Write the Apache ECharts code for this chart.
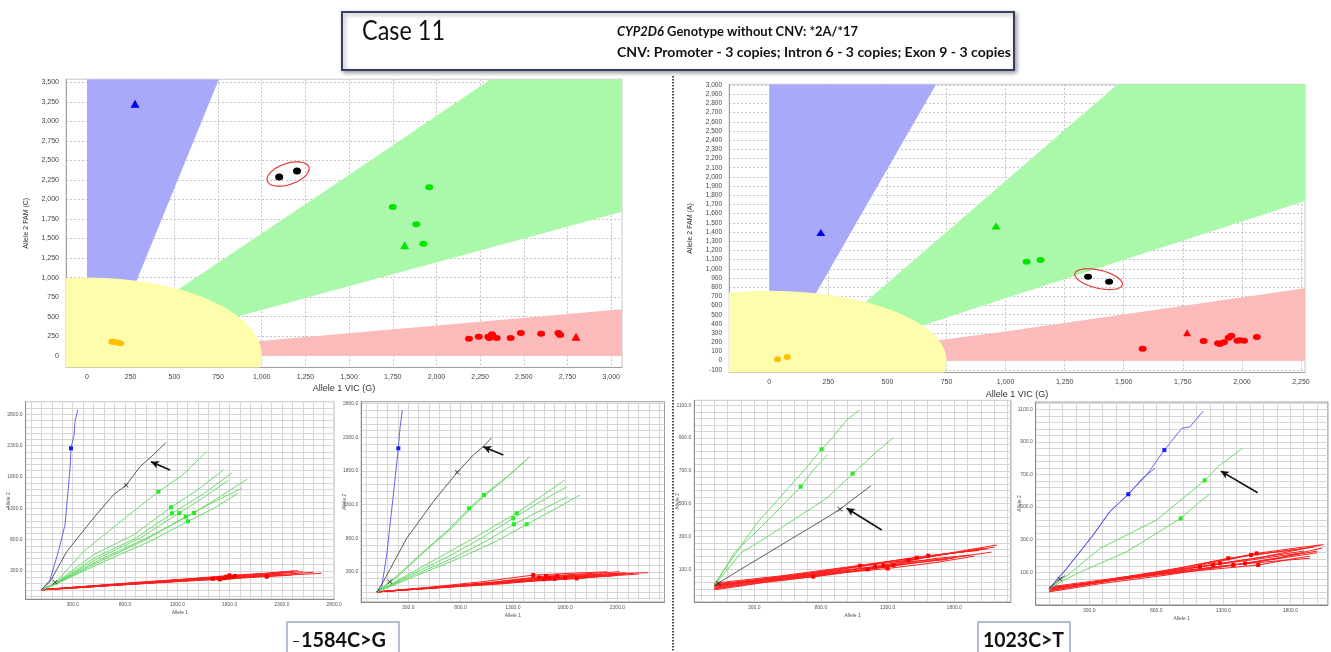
<!DOCTYPE html>
<html><head><meta charset="utf-8">
<script src="https://cdn.jsdelivr.net/npm/echarts@6/dist/echarts.min.js"></script>
<style>html,body{margin:0;padding:0;background:#fff}#c{width:1331px;height:652px}</style>
</head><body><div id="c"></div>
<script>
// ================= DATA =================
// --- top-left genotype cluster plot (-1584C>G) ---
const tlBlueZone   = [[0,0],[0,3540],[755,3540],[284,960],[110,0]];
const tlGreenZone  = [[0,40],[532,863],[1448,2237],[2310,3540],[3062,3540],[3062,1844],[857,500],[0,-20]];
const tlRedZone    = [[0,0],[990,188],[3062,594],[3062,0]];
const tlYellowZone = {center:[0,0], radius:[1000,1000]};
const tlYellow  = [[145,180],[165,172],[190,160]];
const tlBlueTri = [[275,3225]];
const tlBlack   = [[1100,2288],[1202,2365]];
const tlGreen   = [[1959,2156],[1750,1905],[1885,1682],[1925,1434]];
const tlGreenTri= [[1818,1413]];
const tlRed     = [[2186,218],[2242,243],[2297,243],[2303,226],[2318,274],[2345,226],[2425,226],[2483,290],[2599,282],[2698,290],[2708,265]];
const tlRedTri  = [[2799,243]];

// --- top-right genotype cluster plot (1023C>T) ---
const trBlueZone   = [[0,0],[0,3008],[706,3008],[200,744],[34,0]];
const trGreenZone  = [[150,60],[405,632],[1019,2000],[1474,3008],[2267,3008],[2267,1738],[977,661],[645,381],[200,0]];
const trRedZone    = [[0,0],[722,225],[977,309],[2267,788],[2267,0]];
const trYellowZone = {center:[0,0], radius:[750,760]};
const trYellow  = [[35,15],[76,40]];
const trBlueTri = [[218,1395]];
const trGreenTri= [[960,1465]];
const trGreen   = [[1089,1077],[1148,1095]];
const trBlack   = [[1349,914],[1438,860]];
const trRedTri  = [[1768,305]];
const trRed     = [[1580,130],[1838,214],[1899,189],[1907,182],[1924,200],[1944,250],[1955,272],[1981,218],[1993,222],[2009,218],[2063,258]];

// --- bottom amplification trajectory plots ---
const p1Blue  = [[[0,0],[83,156],[163,608],[227,1037],[275,1938],[284,2257],[313,2465],[322,2681],[348,2871]]];
const p1BlueDots = [[284,2257]];
const p1Black = [[[0,0],[83,129],[243,608],[497,1140],[688,1512],[810,1667],[944,1963],[1104,2203],[1192,2352]]];
const p1BlackX = [[810,1667],[131,120]];
const p1Arrow = [[1230,1911],[1049,2043]];
const p1Green = [
  [[0,0],[131,104],[402,608],[816,1166],[1119,1565],[1350,1830],[1581,2203]],
  [[0,0],[131,100],[500,560],[880,874],[1240,1316],[1500,1600],[1741,1911]],
  [[0,0],[131,95],[520,520],[900,820],[1250,1220],[1550,1530],[1826,1868]],
  [[0,0],[131,92],[540,500],[950,830],[1320,1225],[1560,1480],[1791,1751]],
  [[0,0],[131,90],[560,480],[1000,820],[1460,1225],[1720,1500],[1970,1767]],
  [[0,0],[131,88],[580,470],[1000,800],[1381,1166],[1650,1400],[1916,1619]],
  [[0,0],[131,85],[600,450],[1050,780],[1402,1092],[1650,1300],[1880,1540]]
];
const p1GreenDots = [[1119,1565],[1240,1316],[1250,1220],[1320,1225],[1460,1225],[1381,1166],[1402,1092]];
const p1Red = [
  [[0,0],[350,45],[800,95],[1300,150],[1800,215],[2457,305]],
  [[0,0],[400,40],[900,95],[1500,160],[2100,215],[2681,263]],
  [[0,0],[300,30],[800,85],[1300,135],[1708,167],[2200,230]],
  [[0,0],[350,35],[900,100],[1400,150],[1788,193],[2300,245]],
  [[0,0],[400,50],[900,110],[1400,170],[1852,220],[2250,265]],
  [[0,0],[450,45],[1000,110],[1600,170],[2155,209],[2400,235]],
  [[0,0],[300,35],[750,85],[1250,140],[1750,185],[2100,215]],
  [[0,0],[350,45],[850,105],[1350,165],[1800,230],[2350,280]],
  [[0,0],[300,25],[800,80],[1200,120],[1600,160],[2050,200]],
  [[0,0],[400,50],[950,115],[1450,165],[1900,210],[2500,290]],
  [[0,0],[380,40],[880,90],[1380,145],[1880,200],[2600,280]],
  [[0,0],[420,55],[920,120],[1420,175],[1950,235],[2420,300]]
];
const p1RedDots = [[1708,167],[1788,193],[1852,220],[2155,209],[1750,185],[1800,230],[1820,200],[1700,180],[1770,210],[1640,175]];

const p2Blue  = [[[0,0],[46,77],[94,549],[157,1442],[205,2137],[221,2435],[243,2707]]];
const p2BlueDots = [[205,2137]];
const p2Black = [[[0,0],[61,152],[285,798],[539,1342],[769,1780],[922,2037],[1017,2161],[1098,2295]]];
const p2BlackX = [[769,1780],[125,152]];
const p2Arrow = [[1209,2037],[1017,2161]];
const p2Green = [
  [[0,0],[200,250],[444,598],[700,950],[881,1244],[1024,1442],[1250,1720],[1464,2012]],
  [[0,0],[210,240],[450,590],[710,940],[890,1230],[1030,1430],[1240,1700],[1440,1980]],
  [[0,0],[300,260],[650,560],[922,798],[1200,1050],[1336,1170],[1550,1400],[1798,1665]],
  [[0,0],[320,250],[700,540],[1000,800],[1304,1095],[1550,1330],[1814,1565]],
  [[0,0],[340,240],[750,520],[1050,760],[1311,1006],[1600,1240],[1824,1417]],
  [[0,0],[360,230],[800,510],[1150,760],[1432,1006],[1700,1230],[1942,1442]]
];
const p2GreenDots = [[881,1244],[1024,1442],[1336,1170],[1304,1095],[1311,1006],[1432,1006]];
const p2Red = [
  [[0,0],[500,70],[1000,150],[1495,251],[1900,280],[2200,300]],
  [[0,0],[500,65],[1100,145],[1617,237],[2000,270],[2324,301]],
  [[0,0],[600,70],[1200,150],[1725,237],[2100,265],[2595,286]],
  [[0,0],[600,65],[1300,140],[1910,202],[2250,240],[2500,265]],
  [[0,0],[500,60],[1050,130],[1550,215],[1950,250],[2150,265]],
  [[0,0],[550,60],[1100,125],[1650,205],[2050,240],[2400,270]],
  [[0,0],[600,60],[1200,120],[1700,195],[2100,225],[2300,245]],
  [[0,0],[550,65],[1150,135],[1800,210],[2150,245],[2450,275]],
  [[0,0],[500,55],[1050,115],[1600,190],[1950,220],[2250,240]],
  [[0,0],[450,50],[900,100],[1400,160],[1800,190],[2000,205]],
  [[0,0],[520,62],[1080,128],[1580,200],[2000,245],[2380,285]]
];
const p2RedDots = [[1495,251],[1617,237],[1725,237],[1910,202],[1550,215],[1650,205],[1700,195],[1800,210],[1600,190]];

const p3Blue  = [];
const p3BlueDots = [];
const p3Black = [[[0,0],[30,15],[168,85],[418,207],[605,299],[793,390],[943,466],[1031,522],[1176,610]]];
const p3BlackX = [[943,466],[30,15]];
const p3Arrow = [[1256,340],[993,472]];
const p3Green = [
  [[0,0],[5,15],[318,380],[643,675],[805,832],[893,909],[993,1010],[1088,1071]],
  [[0,0],[150,200],[418,411],[648,604],[743,706],[848,797]],
  [[0,0],[200,200],[418,309],[843,533],[1038,683],[1218,817],[1343,902]]
];
const p3GreenDots = [[805,832],[648,604],[1038,683]];
const p3Red = [
  [[0,-20],[300,15],[743,55],[1100,95],[1500,150],[1793,167]],
  [[0,10],[400,45],[800,75],[1093,122],[1500,170],[1868,207]],
  [[0,-10],[350,30],[800,70],[1206,116],[1600,175],[2018,228]],
  [[0,0],[400,35],[850,80],[1268,122],[1700,190],[2119,248]],
  [[0,5],[300,30],[900,90],[1343,126],[1650,165],[1918,187]],
  [[0,-5],[400,40],[950,100],[1456,157],[1800,200],[2050,225]],
  [[0,0],[450,50],[1000,110],[1518,171],[1850,205],[1990,215]],
  [[0,15],[500,60],[1100,125],[1605,183],[1900,210],[2100,235]],
  [[0,-15],[350,25],[750,65],[1150,100],[1500,140],[1750,160]],
  [[0,0],[400,30],[850,70],[1300,105],[1650,140],[1950,180]],
  [[0,-25],[380,20],[820,62],[1250,110],[1700,160],[2080,205]]
];
const p3RedDots = [[743,55],[1093,122],[1206,116],[1268,122],[1343,126],[1456,157],[1518,171],[1605,183],[1150,100],[1300,105]];

const p4Blue = [
  [[0,0],[7,6],[131,125],[330,329],[454,472],[591,579],[728,697],[860,850],[990,983],[1051,993],[1151,1090]],
  [[0,0],[120,110],[320,320],[450,470],[591,579],[700,680],[790,738]]
];
const p4BlueDots = [[591,579],[860,850]];
const p4Black = [[[0,0],[40,30],[81,59],[120,80]]];
const p4BlackX = [[81,59]];
const p4Arrow = [[1557,588],[1281,721]];
const p4Green = [
  [[0,0],[150,90],[380,247],[803,421],[1161,664],[1275,758],[1445,861]],
  [[0,0],[200,90],[579,226],[982,431],[1126,533],[1206,585]]
];
const p4GreenDots = [[1161,664],[982,431]];
const p4Red = [
  [[0,0],[400,45],[800,95],[1225,145],[1600,195],[2029,267]],
  [[0,-10],[400,40],[900,115],[1337,186],[1700,225],[1980,255]],
  [[0,5],[450,50],[900,100],[1375,145],[1700,170],[1947,186]],
  [[0,0],[500,55],[1000,110],[1462,155],[1750,195],[2000,230]],
  [[0,10],[500,65],[1050,130],[1507,206],[1800,235],[1900,245]],
  [[0,-5],[450,55],[1000,130],[1549,216],[1850,250],[2050,270]],
  [[0,0],[500,55],[1050,105],[1561,145],[1800,180],[1950,200]],
  [[0,0],[400,45],[800,90],[1126,134],[1500,175],[1850,215]],
  [[0,5],[450,50],[900,105],[1275,155],[1650,200],[1900,230]],
  [[0,-15],[350,35],[800,85],[1200,125],[1600,170],[2000,220]],
  [[0,-20],[380,30],[850,80],[1300,135],[1700,185],[2040,250]]
];
const p4RedDots = [[1225,145],[1337,186],[1375,145],[1462,155],[1507,206],[1549,216],[1561,145],[1126,134],[1275,155]];

// --- texts ---
const titleCase = 'Case 11';
const titleGeneItalic = 'CYP2D6';
const titleGeneRest = ' Genotype without CNV: *2A/*17';
const titleCnv = 'CNV: Promoter - 3 copies; Intron 6 - 3 copies; Exon 9 - 3 copies';
const labelLeftMinus = '\u2212';
const labelLeft = '1584C>G';
const labelRight = '1023C>T';

// ================= CHART =================
const mctx = document.createElement('canvas').getContext('2d');
function tw(text, font){ mctx.font = font; return mctx.measureText(text).width; }

const FF = 'Liberation Sans';
const TFF = 'Lato';
const commaFmt = v => Math.round(v).toLocaleString('en-US');
const decFmt = v => v.toFixed(1);

function makeAxis(gi, o, isX){
  const n = Math.round(o.step / o.sub);
  const off = (((Math.round((o.phase - o.min) / o.sub)) % n) + n) % n;
  const cols = [];
  for (let i = 0; i < n; i++) cols.push(i === off ? o.gridColor : 'rgba(0,0,0,0)');
  return {
    type:'value', gridIndex:gi, min:o.min, max:o.max, interval:o.sub,
    axisLine:{show:true, onZero:false, lineStyle:{color:o.axisColor, width:1}},
    axisTick:{show:false},
    splitLine:{show:true, lineStyle:{color:cols, width:1, type:o.dash || 'solid'}},
    axisLabel:{show:true, fontSize:o.fs, color:o.lc, margin:o.margin, fontFamily:FF,
      formatter: v => {
        const k = (v - o.ls) / o.lstep;
        if (Math.abs(k - Math.round(k)) > 1e-6 || v < o.ls - 1e-6 || v > o.le + 1e-6) return '';
        return o.fmt(v);
      }},
    name:o.name, nameLocation:'middle', nameGap:o.nameGap, nameRotate:isX ? 0 : 90,
    nameMoveOverlap:false,
    nameTextStyle:{fontSize:o.nfs, color:o.nc, fontFamily:FF}
  };
}

const grids = [], xAxes = [], yAxes = [], series = [];

// top plots
const topCfg = [
  {grid:{left:66, top:79.2, width:556, height:288.2},
   x:{min:-120, max:3062, sub:10, step:250, phase:0, ls:0, lstep:250, le:3000},
   y:{min:-150, max:3540, sub:50, step:250, phase:0, ls:0, lstep:250, le:3500},
   yname:'Allele 2 FAM (C)', yfs:7},
  {grid:{left:729.1, top:84.3, width:575.9, height:288.3},
   x:{min:-170, max:2267, sub:10, step:250, phase:0, ls:0, lstep:250, le:2250},
   y:{min:-130, max:3008, sub:10, step:100, phase:0, ls:-100, lstep:100, le:3000},
   yname:'Allele 2 FAM (A)', yfs:6.5}
];
topCfg.forEach((c, i) => {
  grids.push(Object.assign({show:true, borderColor:'#c8c8c8', borderWidth:1, backgroundColor:'#fff', containLabel:false}, c.grid));
  xAxes.push(makeAxis(i, Object.assign({gridColor:'#c4c4c4', dash:[2,2], axisColor:'#a0a0a0', fs:7, lc:'#444', margin:6, fmt:commaFmt,
    name:'Allele 1 VIC (G)', nameGap:17, nfs:9, nc:'#333'}, c.x), true));
  yAxes.push(makeAxis(i, Object.assign({gridColor:'#c4c4c4', dash:[2,2], axisColor:'#a0a0a0', fs:c.yfs, lc:'#444', margin:7, fmt:commaFmt,
    name:c.yname, nameGap:36, nfs:7, nc:'#333'}, c.y), false));
});

// bottom plots
const botCfg = [
  {grid:{left:25.6, top:401.7, width:308.6, height:197.5},
   x:{min:-150, max:2800, sub:50, step:100, phase:0, ls:300, lstep:500, le:2800},
   y:{min:-150, max:3000, sub:50, step:100, phase:0, ls:300, lstep:500, le:2800}},
  {grid:{left:361.2, top:401.7, width:303.3, height:200.3},
   x:{min:-150, max:2750, sub:50, step:100, phase:0, ls:300, lstep:500, le:2300},
   y:{min:-150, max:2830, sub:50, step:100, phase:0, ls:300, lstep:500, le:2800}},
  {grid:{left:694.3, top:400.4, width:316.6, height:201.7},
   x:{min:-150, max:2225, sub:50, step:100, phase:0, ls:300, lstep:500, le:1800},
   y:{min:-100, max:1130, sub:20, step:40, phase:100, ls:100, lstep:200, le:1100}},
  {grid:{left:1035.7, top:402, width:292.1, height:202.9},
   x:{min:-100, max:2080, sub:50, step:100, phase:0, ls:300, lstep:500, le:1800},
   y:{min:-100, max:1145, sub:20, step:40, phase:100, ls:100, lstep:200, le:1100}}
];
botCfg.forEach((c, j) => {
  const gi = j + 2;
  grids.push(Object.assign({show:true, borderColor:'#9a9a9a', borderWidth:1, backgroundColor:'#fff', containLabel:false}, c.grid));
  xAxes.push(makeAxis(gi, Object.assign({gridColor:'#d6d6d6', axisColor:'#8a8a8a', fs:5, lc:'#555', margin:3, fmt:decFmt,
    name:'Allele 1', nameGap:11, nfs:5, nc:'#555'}, c.x), true));
  yAxes.push(makeAxis(gi, Object.assign({gridColor:'#d6d6d6', axisColor:'#8a8a8a', fs:5, lc:'#555', margin:3, fmt:decFmt,
    name:'Allele 2', nameGap:14, nfs:5, nc:'#555'}, c.y), false));
});

// series helpers
function region(gi, poly, color){
  series.push({type:'custom', xAxisIndex:gi, yAxisIndex:gi, clip:true, silent:true, z:1, data:[[0,0]],
    renderItem:(p, api) => ({type:'polygon', shape:{points:poly.map(q => api.coord(q))}, style:{fill:color}})});
}
function ellipseRegion(gi, e, color){
  series.push({type:'custom', xAxisIndex:gi, yAxisIndex:gi, clip:true, silent:true, z:1, data:[[0,0]],
    renderItem:(p, api) => {
      const pts = [];
      for (let i = 0; i < 144; i++){ const t = i / 144 * 2 * Math.PI;
        pts.push(api.coord([e.center[0] + e.radius[0]*Math.cos(t), e.center[1] + e.radius[1]*Math.sin(t)])); }
      return {type:'polygon', shape:{points:pts}, style:{fill:color}};
    }});
}
function ring(gi, pts, pad, ry){
  series.push({type:'custom', xAxisIndex:gi, yAxisIndex:gi, clip:false, silent:true, z:8, data:[[0,0]],
    renderItem:(p, api) => {
      const a = api.coord(pts[0]), b = api.coord(pts[1]);
      const cx = (a[0]+b[0])/2, cy = (a[1]+b[1])/2;
      const ang = Math.atan2(b[1]-a[1], b[0]-a[0]);
      const rx = Math.hypot(b[0]-a[0], b[1]-a[1]) / 2 + pad;
      const poly = [];
      for (let i = 0; i < 90; i++){ const t = i/90*2*Math.PI; const ex = rx*Math.cos(t), ey = ry*Math.sin(t);
        poly.push([cx + ex*Math.cos(ang) - ey*Math.sin(ang), cy + ex*Math.sin(ang) + ey*Math.cos(ang)]); }
      return {type:'polygon', shape:{points:poly}, style:{fill:'none', stroke:'#e23b3b', lineWidth:1.2}};
    }});
}
function scatter(gi, data, color, symbol, size, z){
  if (!data.length) return;
  series.push({type:'scatter', xAxisIndex:gi, yAxisIndex:gi, data, symbol, symbolSize:size, silent:true, z:z || 6,
    itemStyle:{color, opacity:1}});
}
function line(gi, data, color, w, z, extra){
  series.push(Object.assign({type:'line', xAxisIndex:gi, yAxisIndex:gi, data, showSymbol:false, symbol:'none',
    lineStyle:{color, width:w}, z:z || 3, silent:true, clip:true}, extra || {}));
}

// top-left
region(0, tlBlueZone, '#a9a9fb');
region(0, tlGreenZone, '#aaf8aa');
region(0, tlRedZone, '#fbbbbb');
ellipseRegion(0, tlYellowZone, '#fdfdab');
scatter(0, tlYellow, '#ffbf00', 'circle', [8,6]);
scatter(0, tlBlueTri, '#0000ee', 'triangle', [9,8]);
scatter(0, tlBlack, '#000', 'circle', [8,7]);
scatter(0, tlGreen, '#00e600', 'circle', [8,6]);
scatter(0, tlGreenTri, '#00e600', 'triangle', [9,8]);
scatter(0, tlRed, '#ff0000', 'circle', [8,6]);
scatter(0, tlRedTri, '#ff0000', 'triangle', [9,8]);
ring(0, tlBlack, 12.5, 10.5);

// top-right
region(1, trBlueZone, '#a9a9fb');
region(1, trGreenZone, '#aaf8aa');
region(1, trRedZone, '#fbbbbb');
ellipseRegion(1, trYellowZone, '#fdfdab');
scatter(1, trYellow, '#ffbf00', 'circle', [7,6]);
scatter(1, trBlueTri, '#0000ee', 'triangle', [9,7]);
scatter(1, trGreenTri, '#00e600', 'triangle', [9,7]);
scatter(1, trGreen, '#00e600', 'circle', [8,6]);
scatter(1, trBlack, '#000', 'circle', [8,6]);
scatter(1, trRedTri, '#ff0000', 'triangle', [8,7]);
scatter(1, trRed, '#ff0000', 'circle', [8,6]);
ring(1, trBlack, 13.5, 9);

// bottom
const bot = [
  {blue:p1Blue, blueDots:p1BlueDots, black:p1Black, blackX:p1BlackX, arrow:p1Arrow, green:p1Green, greenDots:p1GreenDots, red:p1Red, redDots:p1RedDots},
  {blue:p2Blue, blueDots:p2BlueDots, black:p2Black, blackX:p2BlackX, arrow:p2Arrow, green:p2Green, greenDots:p2GreenDots, red:p2Red, redDots:p2RedDots},
  {blue:p3Blue, blueDots:p3BlueDots, black:p3Black, blackX:p3BlackX, arrow:p3Arrow, green:p3Green, greenDots:p3GreenDots, red:p3Red, redDots:p3RedDots},
  {blue:p4Blue, blueDots:p4BlueDots, black:p4Black, blackX:p4BlackX, arrow:p4Arrow, green:p4Green, greenDots:p4GreenDots, red:p4Red, redDots:p4RedDots}
];
const XSYM = 'path://M0,1L1,0L5,4L9,0L10,1L6,5L10,9L9,10L5,6L1,10L0,9L4,5Z';
bot.forEach((b, j) => {
  const gi = j + 2;
  b.red.forEach(d => line(gi, d, '#ff1f1f', 1.0, 3));
  b.green.forEach(d => line(gi, d, '#5cd85c', 0.9, 4));
  b.blue.forEach(d => line(gi, d, '#5656e6', 0.9, 4));
  b.black.forEach((d, k) => line(gi, d, '#4a4a4a', 0.9, 4, k === 0 ? {
    markLine:{silent:true, symbol:['none','arrow'], symbolSize:[6,8], label:{show:false},
      lineStyle:{color:'#111', width:1.6, type:'solid'}, emphasis:{disabled:true},
      data:[[{coord:b.arrow[0]}, {coord:b.arrow[1]}]]}
  } : {}));
  scatter(gi, b.redDots, '#ff0000', 'rect', 4, 6);
  scatter(gi, b.greenDots, '#22ee22', 'rect', 4, 6);
  scatter(gi, b.blueDots, '#1a1aff', 'rect', 4, 6);
  scatter(gi, b.blackX, '#333', XSYM, 5, 7);
});

// graphics (title box, labels, divider)
const caseFont = '27px ' + TFF;
const gFontI = 'italic bold 14px ' + TFF, gFont = 'bold 14px ' + TFF;
const l1w = tw(titleGeneItalic, gFontI) + tw(titleGeneRest, gFont);
const l2w = tw(titleCnv, gFont);
const lblFont = 'bold 21px ' + TFF;

const graphic = [
  {type:'line', shape:{x1:673, y1:76, x2:673, y2:652}, style:{stroke:'#4a4a4a', lineWidth:2, lineDash:[1.5,1.5]}, z:10},
  {type:'rect', shape:{x:342, y:12, width:672, height:58}, style:{fill:'#fff', stroke:'#34405f', lineWidth:2,
    shadowBlur:4, shadowOffsetX:2, shadowOffsetY:2, shadowColor:'rgba(0,0,0,0.35)'}, z:10},
  {type:'text', x:362, y:31, scaleX:83 / tw(titleCase, caseFont), z:11,
    style:{text:titleCase, font:caseFont, fill:'#111', verticalAlign:'middle', align:'left'}},
  {type:'text', x:617, y:31, scaleX:241 / l1w, z:11,
    style:{text:'{i|' + titleGeneItalic + '}{n|' + titleGeneRest + '}', verticalAlign:'middle', align:'left',
      rich:{i:{font:gFontI, fill:'#111'}, n:{font:gFont, fill:'#111'}}}},
  {type:'text', x:617, y:52, scaleX:394 / l2w, z:11,
    style:{text:titleCnv, font:gFont, fill:'#111', verticalAlign:'middle', align:'left'}},
  {type:'rect', shape:{x:287, y:622, width:112, height:40}, style:{fill:'#fff', stroke:'#9aaac8', lineWidth:1.5}, z:10},
  {type:'text', x:292, y:641, z:11, style:{text:labelLeftMinus, font:'14px ' + TFF, fill:'#111', verticalAlign:'middle'}},
  {type:'text', x:301, y:640, scaleX:85 / tw(labelLeft, lblFont), z:11,
    style:{text:labelLeft, font:lblFont, fill:'#111', verticalAlign:'middle', align:'left'}},
  {type:'rect', shape:{x:978, y:622, width:92, height:40}, style:{fill:'#fff', stroke:'#9aaac8', lineWidth:1.5}, z:10},
  {type:'text', x:983, y:640, scaleX:81 / tw(labelRight, lblFont), z:11,
    style:{text:labelRight, font:lblFont, fill:'#111', verticalAlign:'middle', align:'left'}}
];

const chart = echarts.init(document.getElementById('c'), null, {renderer:'canvas'});
chart.setOption({
  animation:false,
  backgroundColor:'#fff',
  grid:grids, xAxis:xAxes, yAxis:yAxes, series, graphic
});
</script>
</body></html>
